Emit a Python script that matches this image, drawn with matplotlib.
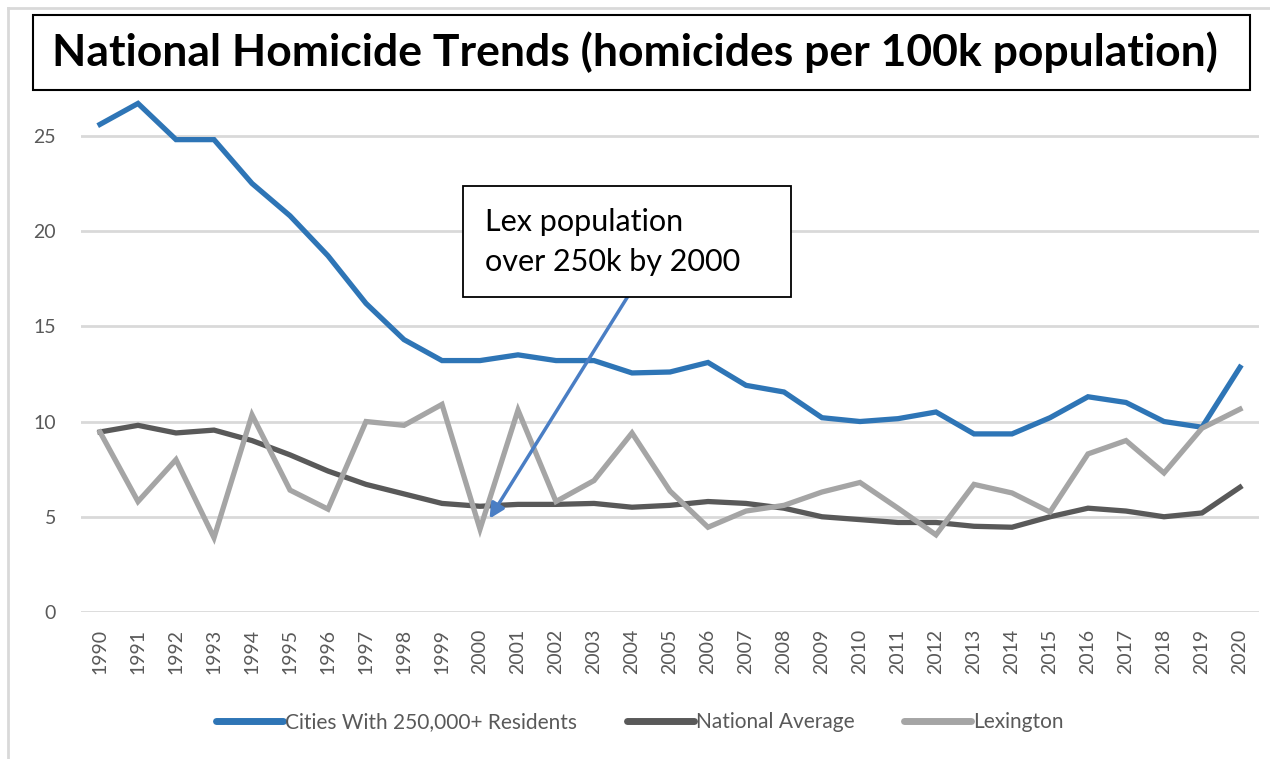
import numpy as np
import matplotlib.pyplot as plt
from matplotlib.patches import Rectangle

plt.rcParams['font.family'] = ['Lato', 'DejaVu Sans']

years = list(range(1990, 2021))

# homicides per 100k population
cities = [25.6, 26.7, 24.8, 24.8, 22.5, 20.8, 18.7, 16.2, 14.3, 13.2,
          13.2, 13.5, 13.2, 13.2, 12.55, 12.6, 13.1, 11.9, 11.55, 10.2,
          10.0, 10.15, 10.5, 9.35, 9.35, 10.2, 11.3, 11.0, 10.0, 9.7,
          12.85]
national = [9.45, 9.8, 9.4, 9.55, 9.0, 8.25, 7.4, 6.7, 6.2, 5.7,
            5.55, 5.65, 5.65, 5.7, 5.5, 5.6, 5.8, 5.7, 5.45, 5.0,
            4.85, 4.7, 4.7, 4.5, 4.45, 5.0, 5.45, 5.3, 5.0, 5.2,
            6.55]
lexington = [9.45, 5.8, 8.0, 3.9, 10.35, 6.4, 5.4, 10.0, 9.8, 10.9,
             4.35, 10.6, 5.8, 6.9, 9.4, 6.35, 4.45, 5.3, 5.6, 6.3,
             6.8, 5.45, 4.05, 6.7, 6.25, 5.25, 8.3, 9.0, 7.3, 9.65,
             10.65]

series_names = ['Cities With 250,000+ Residents', 'National Average', 'Lexington']
colors = ['#2E75B6', '#595959', '#A5A5A5']
yticks = [0, 5, 10, 15, 20, 25]

W, H = 1270, 759
fig = plt.figure(figsize=(W / 100, H / 100), dpi=100)

# axes box in pixels: left 81, right 1259, top 92, bottom 612
ax = fig.add_axes([81 / W, 1 - 612 / H, (1259 - 81) / W, (612 - 92) / H])

for vals, name, c in zip([cities, national, lexington], series_names, colors):
    ax.plot(years, vals, color=c, lw=3.8, label=name, solid_joinstyle='miter')

ax.set_xlim(1989.5, 2020.5)
ax.set_ylim(0, 27.3)
ax.set_yticks(yticks)
ax.set_xticks(years)
ax.set_xticklabels([str(y) for y in years], rotation=90)
ax.tick_params(axis='both', length=0, colors='#595959', labelsize=14)
ax.tick_params(axis='y', pad=18)
ax.tick_params(axis='x', pad=12)
ax.grid(axis='y', color='#D9D9D9', lw=2)
ax.set_axisbelow(True)
for s in ax.spines.values():
    s.set_visible(False)

leg = fig.legend(loc='center', bbox_to_anchor=(640 / W, 1 - 722 / H), ncol=3,
                 frameon=False, fontsize=15, handlelength=3.2, handletextpad=0.1,
                 columnspacing=2.4, labelcolor='#595959')
for line in leg.get_lines():
    line.set_linewidth(5)
    line.set_solid_capstyle('round')

# chart border (left and top visible)
fig.add_artist(plt.Line2D([8 / W, 8 / W], [0, 1 - 8 / H], color='#D9D9D9', lw=2))
fig.add_artist(plt.Line2D([8 / W, 1], [1 - 8 / H, 1 - 8 / H], color='#D9D9D9', lw=2))

# title box
fig.add_artist(Rectangle((33 / W, 1 - 90 / H), (1250 - 33) / W, 75 / H,
                         transform=fig.transFigure, fill=True, facecolor='white',
                         edgecolor='black', lw=1.5))
fig.text(52 / W, 1 - 52 / H, 'National Homicide Trends (homicides per 100k population)',
         fontsize=32, fontweight='bold', ha='left', va='center')

# annotation box + arrow
ax.annotate('', xy=(2000.25, 4.9), xytext=(2003.9, 16.6),
            arrowprops=dict(arrowstyle='-|>', color='#4A7EC4', lw=2.5,
                            mutation_scale=22, shrinkA=0, shrinkB=0))
fig.add_artist(Rectangle((463 / W, 1 - 297 / H), (791 - 463) / W, (297 - 186) / H,
                         transform=fig.transFigure, facecolor='white',
                         edgecolor='black', lw=1.3))
fig.text(485 / W, 1 - 242 / H, 'Lex population\nover 250k by 2000', fontsize=22,
         ha='left', va='center', linespacing=1.55)

fig.savefig('out.png', dpi=100)
